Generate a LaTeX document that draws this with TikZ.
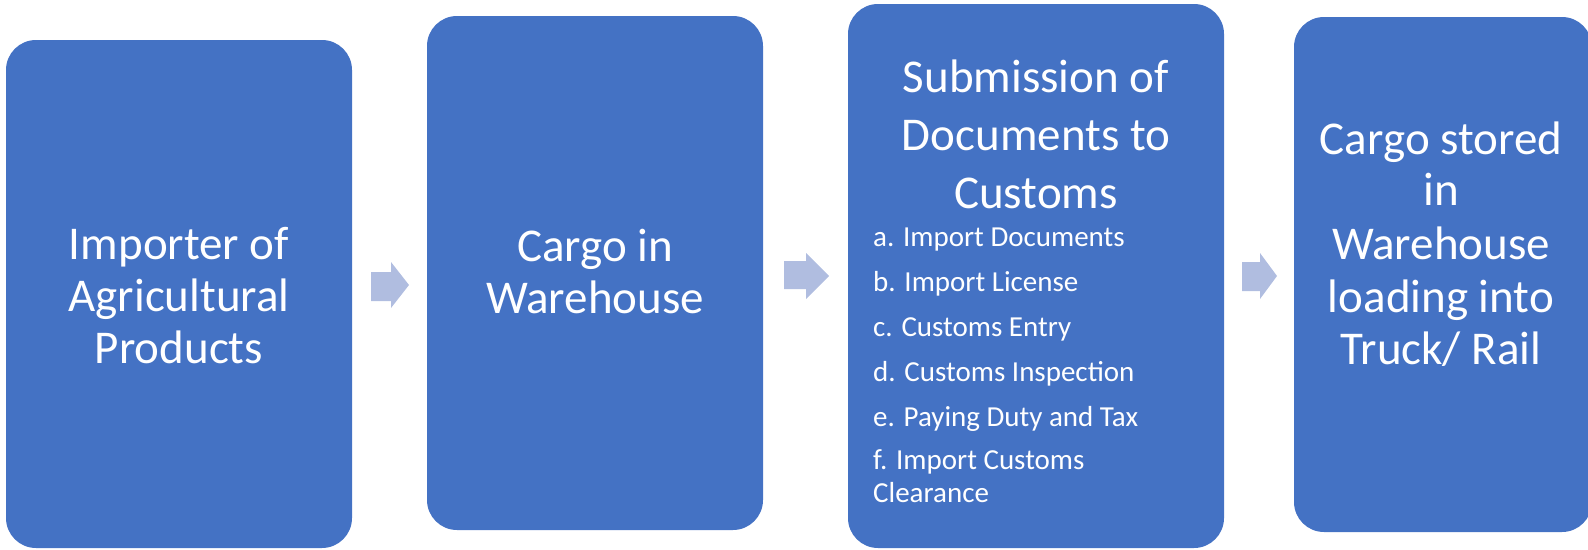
\documentclass[tikz,border=0pt]{standalone}
\usepackage{fontspec}
\setmainfont{Carlito}
\definecolor{boxblue}{HTML}{4472C4}
\definecolor{arrowblue}{HTML}{B0BDE0}
\tikzset{
  stagebox/.style={fill=boxblue, draw=none, rounded corners=30pt},
  bigtext/.style={text=white, anchor=base, inner sep=0pt, font=\fontsize{47}{52}\selectfont},
  listtext/.style={text=white, anchor=base west, inner sep=0pt, font=\fontsize{29}{33}\selectfont},
  blockarrow/.style={fill=arrowblue, draw=none}
}
\begin{document}
\begin{tikzpicture}[x=1pt,y=-1pt]
\useasboundingbox (0,0) rectangle (1588,549);
% boxes
\path[stagebox] (6,40) rectangle (352,548);
\path[stagebox] (427,16) rectangle (763,530);
\path[stagebox] (848,4) rectangle (1224,548);
\path[stagebox] (1294,17) rectangle (1592,532);
% box 1
\node[bigtext] (t1a) at (179,259) {Importer of};
\node[bigtext] (t1b) at (179,311) {Agricultural};
\node[bigtext] (t1c) at (179,363) {Products};
% box 2
\node[bigtext] (t2a) at (595,261) {Cargo in};
\node[bigtext] (t2b) at (595,313) {Warehouse};
% box 3
\node[bigtext] (t3a) at (1036,92) {Submission of};
\node[bigtext] (t3b) at (1036,150) {Documents to};
\node[bigtext] (t3c) at (1036,208) {Customs};
\node[listtext] (l3a) at (873,246) {a. Import Documents};
\node[listtext] (l3b) at (873,291) {b. Import License};
\node[listtext] (l3c) at (873,336) {c. Customs Entry};
\node[listtext] (l3d) at (873,381) {d. Customs Inspection};
\node[listtext] (l3e) at (873,426) {e. Paying Duty and Tax};
\node[listtext] (l3f) at (873,469) {f. Import Customs};
\node[listtext] (l3g) at (873,502) {Clearance};
% box 4
\node[bigtext] (t4a) at (1441,154) {Cargo stored};
\node[bigtext] (t4b) at (1441,205) {in};
\node[bigtext] (t4c) at (1441,259) {Warehouse};
\node[bigtext] (t4d) at (1441,312) {loading into};
\node[bigtext] (t4e) at (1441,364) {Truck/ Rail};
% block arrows
\path[blockarrow] (371,272) -- (391,272) -- (391,262) -- (409,285) -- (391,308) -- (391,301) -- (371,301) -- cycle;
\path[blockarrow] (784,261) -- (806,261) -- (806,253) -- (829,276) -- (806,299) -- (806,289) -- (784,289) -- cycle;
\path[blockarrow] (1242,262) -- (1260,262) -- (1260,253) -- (1277,276) -- (1260,299) -- (1260,291) -- (1242,291) -- cycle;
\end{tikzpicture}
\end{document}
